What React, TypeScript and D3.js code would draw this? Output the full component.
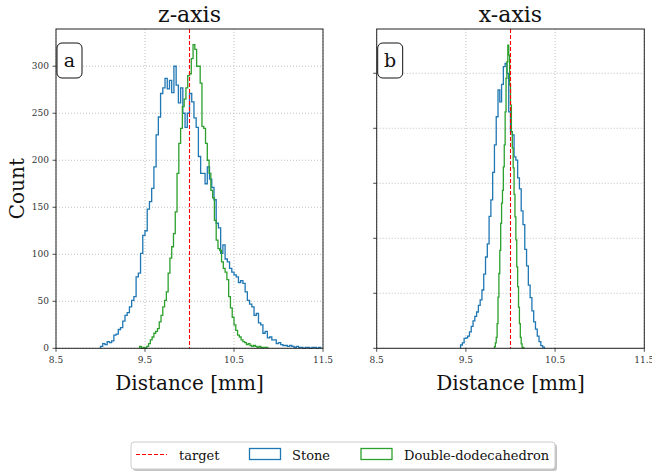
import React from 'react';
import * as d3 from 'd3';

const W = 652;
const H = 474;

const xTicks = [8.5, 9.5, 10.5, 11.5];
const xTickLabels = ['8.5', '9.5', '10.5', '11.5'];
const yTicksA = [0, 50, 100, 150, 200, 250, 300];
const yTicksB = [0, 100, 200, 300, 400, 500];
const titles = ['z-axis', 'x-axis'];
const letters = ['a', 'b'];
const targetValue = 10.0;
const seriesNames = ['target', 'Stone', 'Double-dodecahedron'];

// Panel a (z-axis) histograms
const stoneZStart = 9.0;
const stoneZBin = 0.025;
const stoneZ = [
  2, 5, 4, 7, 6, 8, 14, 15, 20, 22, 29, 35, 38, 44, 51, 55, 76, 80, 101, 120,
  125, 148, 156, 170, 193, 227, 246, 271, 277, 287, 276, 285, 272, 300, 280, 261, 277, 250, 235, 250,
  271, 262, 245, 235, 204, 186, 186, 175, 193, 180, 171, 158, 133, 128, 101, 110, 95, 92, 85, 81,
  78, 76, 70, 72, 69, 60, 51, 47, 44, 35, 37, 27, 25, 16, 18, 11, 12, 9, 9, 5,
  6, 4, 3, 3, 2, 3, 2, 1, 2, 1, 1, 0, 1, 1, 0, 1, 1, 0, 1
];
const ddZStart = 9.44;
const ddZBin = 0.02;
const ddZ = [
  2, 0, 1, 0, 2, 5, 9, 12, 16, 18, 21, 28, 35, 44, 51, 60, 80, 96, 108, 122,
  145, 186, 218, 234, 257, 265, 277, 290, 292, 308, 323, 318, 300, 300, 282, 236, 234, 218, 200, 186,
  168, 160, 136, 115, 106, 104, 92, 85, 81, 73, 55, 43, 33, 25, 19, 14, 12, 9, 7, 6,
  4, 5, 3, 2, 3, 2, 1, 2, 1, 1, 1, 1
];

// Panel b (x-axis) histograms
const stoneXStart = 9.44;
const stoneXBin = 0.02;
const stoneX = [
  6, 10, 18, 19, 22, 30, 40, 50, 58, 66, 78, 88, 106, 135, 166, 190, 240, 270, 320, 370,
  421, 470, 448, 480, 512, 518, 500, 430, 394, 388, 348, 342, 310, 290, 250, 225, 180, 150, 115, 92,
  68, 48, 35, 22, 12, 5, 2
];
const ddXStart = 9.82;
const ddXBin = 0.01;
const ddX = [
  3, 10, 20, 45, 93, 136, 178, 227, 264, 287, 330, 370, 430, 491, 521, 551, 533, 479, 442, 394,
  364, 328, 280, 239, 197, 148, 112, 75, 45, 20, 8, 2, 1
];

const BLUE = '#1f77b4';
const GREEN = '#2ca02c';
const FONT = 'DejaVu Serif';

type PanelProps = {
  left: number;
  right: number;
  top: number;
  bottom: number;
  yMax: number;
  yTicks: number[];
  showYLabels: boolean;
  title: string;
  letter: string;
  stone: number[];
  stoneStart: number;
  stoneBin: number;
  dd: number[];
  ddStart: number;
  ddBin: number;
};

function stepPath(
  counts: number[],
  start: number,
  bin: number,
  x: d3.ScaleLinear<number, number>,
  y: d3.ScaleLinear<number, number>
) {
  const pts: [number, number][] = [];
  pts.push([start, 0]);
  counts.forEach((c, i) => {
    pts.push([start + i * bin, c]);
    pts.push([start + (i + 1) * bin, c]);
  });
  pts.push([start + counts.length * bin, 0]);
  const line = d3
    .line<[number, number]>()
    .x((d) => x(d[0]))
    .y((d) => y(d[1]));
  return line(pts) || '';
}

function Panel(p: PanelProps) {
  const x = d3.scaleLinear().domain([8.5, 11.5]).range([p.left, p.right]);
  const y = d3.scaleLinear().domain([0, p.yMax]).range([p.bottom, p.top]);
  const cx = (p.left + p.right) / 2;
  return (
    <g>
      {/* grid */}
      {xTicks.map((t, i) => (
        <line key={'gx' + i} x1={x(t)} x2={x(t)} y1={p.top} y2={p.bottom}
          stroke="#b0b0b0" strokeWidth={0.8} strokeDasharray="1,2" />
      ))}
      {p.yTicks.map((t, i) => (
        <line key={'gy' + i} x1={p.left} x2={p.right} y1={y(t)} y2={y(t)}
          stroke="#b0b0b0" strokeWidth={0.8} strokeDasharray="1,2" />
      ))}
      {/* histograms */}
      <path d={stepPath(p.stone, p.stoneStart, p.stoneBin, x, y)} fill="none"
        stroke={BLUE} strokeWidth={1.3} strokeLinejoin="miter" />
      <path d={stepPath(p.dd, p.ddStart, p.ddBin, x, y)} fill="none"
        stroke={GREEN} strokeWidth={1.3} strokeLinejoin="miter" />
      {/* target */}
      <line x1={x(targetValue)} x2={x(targetValue)} y1={p.top} y2={p.bottom}
        stroke="red" strokeWidth={1.1} strokeDasharray="4,2" />
      {/* spines */}
      <rect x={p.left} y={p.top} width={p.right - p.left} height={p.bottom - p.top}
        fill="none" stroke="#222" strokeWidth={1} />
      {/* x ticks */}
      {xTicks.map((t, i) => (
        <g key={'xt' + i}>
          <line x1={x(t)} x2={x(t)} y1={p.bottom} y2={p.bottom + 3.5} stroke="#222" strokeWidth={0.8} />
          <text x={x(t)} y={p.bottom + 15} textAnchor="middle" fontFamily={FONT}
            fontSize={9} fill="#333">{xTickLabels[i]}</text>
        </g>
      ))}
      {/* y ticks */}
      {p.yTicks.map((t, i) => (
        <g key={'yt' + i}>
          <line x1={p.left - 3.5} x2={p.left} y1={y(t)} y2={y(t)} stroke="#222" strokeWidth={0.8} />
          {p.showYLabels && (
            <text x={p.left - 7} y={y(t) + 3} textAnchor="end" fontFamily={FONT}
              fontSize={9} fill="#333">{t}</text>
          )}
        </g>
      ))}
      {/* title */}
      <text x={cx} y={p.top - 7} textAnchor="middle" fontFamily={FONT} fontSize={22} fill="#111">
        {p.title}
      </text>
      {/* x label */}
      <text x={cx} y={p.bottom + 42} textAnchor="middle" fontFamily={FONT} fontSize={20} fill="#111">
        Distance [mm]
      </text>
      {/* letter box */}
      <rect x={p.left + 1} y={p.top + 14} width={25} height={35} rx={5} ry={5}
        fill="white" stroke="#111" strokeWidth={1} />
      <text x={p.left + 13.5} y={p.top + 38} textAnchor="middle" fontFamily={FONT}
        fontSize={19} fill="#111">{p.letter}</text>
    </g>
  );
}

export default function App() {
  const top = 29;
  const bottom = 348.3;
  const lx = 131;
  const ly = 442;
  const lw = 424;
  const lh = 27;
  const rowY = ly + lh / 2;
  return (
    <svg width={W} height={H} style={{ position: 'absolute', left: 0, top: 0, background: 'white' }}>
      <rect x={0} y={0} width={W} height={H} fill="white" />
      <Panel left={56} right={323} top={top} bottom={bottom} yMax={339.6} yTicks={yTicksA}
        showYLabels={true} title={titles[0]} letter={letters[0]}
        stone={stoneZ} stoneStart={stoneZStart} stoneBin={stoneZBin}
        dd={ddZ} ddStart={ddZStart} ddBin={ddZBin} />
      <Panel left={376.7} right={644.3} top={top} bottom={bottom} yMax={580.5} yTicks={yTicksB}
        showYLabels={false} title={titles[1]} letter={letters[1]}
        stone={stoneX} stoneStart={stoneXStart} stoneBin={stoneXBin}
        dd={ddX} ddStart={ddXStart} ddBin={ddXBin} />
      {/* y label */}
      <text transform={`translate(24,${(top + bottom) / 2}) rotate(-90)`} textAnchor="middle"
        fontFamily={FONT} fontSize={20} fill="#111">Count</text>
      {/* legend */}
      <rect x={lx + 2} y={ly + 2} width={lw} height={lh} rx={3} fill="#888" opacity={0.5} />
      <rect x={lx} y={ly} width={lw} height={lh} rx={3} fill="white" stroke="#cccccc" strokeWidth={1} />
      <line x1={136} x2={167} y1={rowY - 1} y2={rowY - 1} stroke="red" strokeWidth={1.1} strokeDasharray="4,2" />
      <text x={179} y={rowY + 4} fontFamily={FONT} fontSize={13} fill="#111">{seriesNames[0]}</text>
      <rect x={249.5} y={rowY - 7} width={31} height={11} fill="none" stroke={BLUE} strokeWidth={1.3} />
      <text x={292} y={rowY + 4} fontFamily={FONT} fontSize={13} fill="#111">{seriesNames[1]}</text>
      <rect x={361} y={rowY - 7} width={31} height={11} fill="none" stroke={GREEN} strokeWidth={1.3} />
      <text x={404} y={rowY + 4} fontFamily={FONT} fontSize={13} fill="#111">{seriesNames[2]}</text>
    </svg>
  );
}
